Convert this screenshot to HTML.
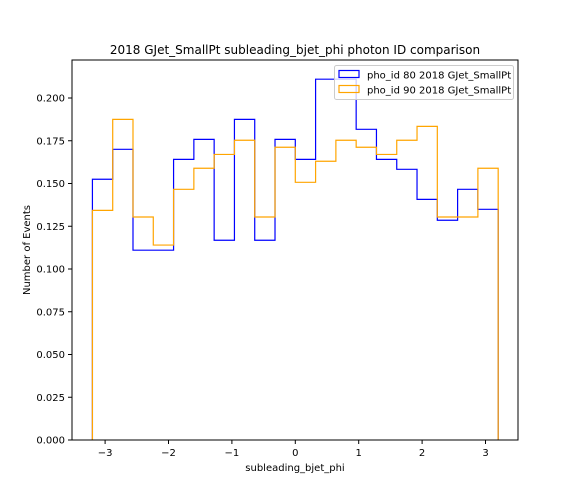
<!DOCTYPE html>
<html><head><meta charset="utf-8"><style>body{margin:0;background:#fff}svg{display:block;font-family:"DejaVu Sans","Liberation Sans",sans-serif}</style></head>
<body>
<svg id="c" width="576" height="504" xmlns="http://www.w3.org/2000/svg">
<rect width="576" height="504" fill="#fff"/>
<text x="295" y="54" text-anchor="middle" font-size="12">2018 GJet_SmallPt subleading_bjet_phi photon ID comparison</text>
<g id="plot"></g>
<text x="295" y="471" text-anchor="middle" font-size="10">subleading_bjet_phi</text>
<text transform="translate(30,250) rotate(-90)" text-anchor="middle" font-size="10">Number of Events</text>
</svg>
<script>
const binEdges=[-3.2,-2.88,-2.56,-2.24,-1.92,-1.6,-1.28,-0.96,-0.64,-0.32,0,0.32,0.64,0.96,1.28,1.6,1.92,2.24,2.56,2.88,3.2];
const pho80=[0.1525,0.170,0.111,0.111,0.1641,0.1758,0.1168,0.1875,0.1168,0.1758,0.1641,0.211,0.211,0.1817,0.1641,0.1583,0.1407,0.1285,0.1466,0.1349];
const pho90=[0.1343,0.1875,0.1304,0.114,0.1466,0.1589,0.167,0.1753,0.1304,0.1712,0.1507,0.163,0.1753,0.1712,0.167,0.1753,0.1834,0.1304,0.1304,0.1589];
const xTicks=[-3,-2,-1,0,1,2,3];
const yTicks=[0,0.025,0.05,0.075,0.1,0.125,0.15,0.175,0.2];
const L=72,R=518,T=60,B=440;
const xs=v=>295.3+63.4*v, ys=v=>B-v*1710;
const NS='http://www.w3.org/2000/svg';
const g=document.getElementById('plot');
function mk(t,a){const e=document.createElementNS(NS,t);for(const k in a)e.setAttribute(k,a[k]);g.appendChild(e);return e;}
function step(vals,color,name){
  let d='M'+xs(binEdges[0])+','+ys(0);
  vals.forEach((v,i)=>{d+=' L'+xs(binEdges[i])+','+ys(v)+' L'+xs(binEdges[i+1])+','+ys(v);});
  d+=' L'+xs(binEdges[binEdges.length-1])+','+ys(0);
  const p=mk('path',{d:d,fill:'none',stroke:color,'stroke-width':1.2});
  
  
}
step(pho80,'#0000ff','pho-id-80-series');
step(pho90,'#ffa500','pho-id-90-series');
xTicks.forEach(v=>{
  mk('line',{x1:xs(v),x2:xs(v),y1:B,y2:B+4,stroke:'#000'});
  const t=mk('text',{x:xs(v),y:B+16,'text-anchor':'middle','font-size':10});
  t.textContent=(v<0?'\u2212'+(-v):v);
  
  
});
yTicks.forEach(v=>{
  mk('line',{x1:L-4,x2:L,y1:ys(v),y2:ys(v),stroke:'#000'});
  const t=mk('text',{x:L-7,y:ys(v)+3.5,'text-anchor':'end','font-size':10});
  t.textContent=v.toFixed(3);
  
  
});
const fr=mk('rect',{x:L,y:T,width:R-L,height:B-T,fill:'none',stroke:'#000','stroke-width':1});


const lg=mk('rect',{x:334.5,y:65.5,width:179,height:34,fill:'#fff','fill-opacity':0.8,stroke:'#ccc',rx:2});


[['#0000ff','pho_id 80 2018 GJet_SmallPt',75],['#ffa500','pho_id 90 2018 GJet_SmallPt',90]].forEach(([c,l,y],i)=>{
  const r=mk('rect',{x:339,y:y-4.5,width:20,height:7,fill:'none',stroke:c,'stroke-width':1.2});
  
  
  const t=mk('text',{x:367,y:y+3.5,'font-size':10});
  t.textContent=l;
  
  
});
</script>
</body></html>
